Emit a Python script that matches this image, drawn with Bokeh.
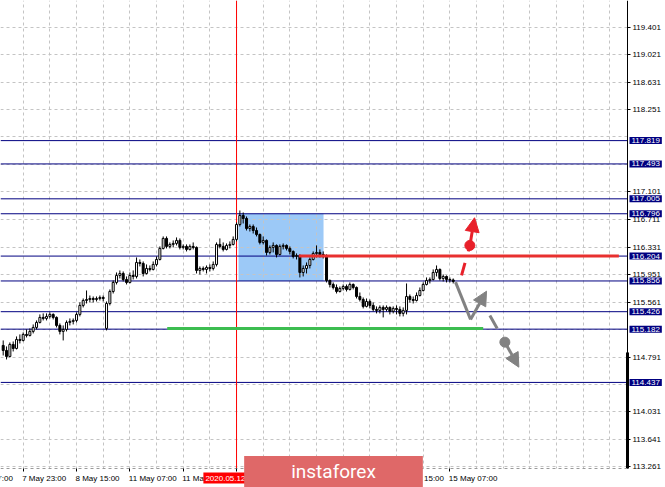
import numpy as np
from bokeh.plotting import figure
from bokeh.models import Range1d, FixedTicker, Span, Label, Arrow, NormalHead, PrintfTickFormatter
from bokeh.embed import file_html
from bokeh.resources import INLINE

# ---------------- data (H1 candles, 7 May 17:00 .. 15 May 08:00) ----------------
opens = [114.954, 114.884, 114.800, 114.968, 114.912, 115.038, 115.024, 115.108, 115.094, 115.150,
         115.206, 115.276, 115.346, 115.332, 115.360, 115.388, 115.346, 115.234, 115.150, 115.178,
         115.276, 115.290, 115.304, 115.388, 115.514, 115.583, 115.597, 115.611, 115.597, 115.611,
         115.625, 115.192, 115.541, 115.709, 115.835, 115.933, 115.961, 115.877, 115.835, 115.933,
         115.919, 116.115, 116.101, 115.961, 116.031, 116.017, 116.087, 116.157, 116.311, 116.451,
         116.339, 116.367, 116.381, 116.423, 116.325, 116.339, 116.297, 116.339, 116.325, 116.003,
         116.031, 116.017, 116.045, 116.031, 116.087, 116.367, 116.339, 116.297, 116.353, 116.367,
         116.437, 116.646, 116.772, 116.730, 116.590, 116.618, 116.562, 116.506, 116.395, 116.423,
         116.255, 116.325, 116.353, 116.227, 116.339, 116.353, 116.311, 116.269, 116.199, 116.213,
         115.975, 116.031, 116.073, 116.157, 116.241, 116.255, 116.227, 116.199, 115.863, 115.807,
         115.765, 115.709, 115.751, 115.779, 115.737, 115.807, 115.765, 115.639, 115.597, 115.500,
         115.569, 115.514, 115.458, 115.444, 115.486, 115.458, 115.486, 115.430, 115.472, 115.458,
         115.402, 115.444, 115.639, 115.597, 115.583, 115.653, 115.723, 115.807, 115.863, 115.877,
         115.975, 116.017, 115.891, 115.919, 115.877, 115.870]
closes = [114.884, 114.800, 114.968, 114.912, 115.038, 115.024, 115.108, 115.094, 115.150, 115.206,
          115.276, 115.346, 115.332, 115.360, 115.388, 115.346, 115.234, 115.150, 115.178, 115.276,
          115.290, 115.304, 115.388, 115.514, 115.583, 115.597, 115.611, 115.597, 115.611, 115.625,
          115.611, 115.541, 115.709, 115.835, 115.933, 115.961, 115.877, 115.835, 115.933, 115.919,
          116.115, 116.101, 115.961, 116.031, 116.017, 116.087, 116.157, 116.311, 116.451, 116.339,
          116.367, 116.381, 116.423, 116.325, 116.339, 116.297, 116.339, 116.325, 116.003, 116.031,
          116.017, 116.045, 116.031, 116.087, 116.367, 116.339, 116.297, 116.353, 116.367, 116.437,
          116.646, 116.772, 116.730, 116.590, 116.618, 116.562, 116.506, 116.395, 116.423, 116.255,
          116.325, 116.353, 116.227, 116.339, 116.353, 116.311, 116.269, 116.199, 116.213, 115.975,
          116.031, 116.073, 116.157, 116.241, 116.255, 116.227, 116.199, 115.863, 115.807, 115.765,
          115.709, 115.751, 115.779, 115.737, 115.807, 115.765, 115.639, 115.597, 115.500, 115.569,
          115.514, 115.458, 115.444, 115.486, 115.458, 115.486, 115.430, 115.472, 115.458, 115.402,
          115.444, 115.639, 115.597, 115.583, 115.653, 115.723, 115.807, 115.863, 115.877, 115.975,
          116.017, 115.891, 115.919, 115.877, 115.870, 115.849]
highs = [115.024, 114.940, 114.996, 115.010, 115.080, 115.108, 115.136, 115.178, 115.192, 115.248,
         115.304, 115.388, 115.402, 115.402, 115.416, 115.402, 115.360, 115.262, 115.234, 115.304,
         115.332, 115.332, 115.416, 115.556, 115.611, 115.723, 115.653, 115.639, 115.639, 115.653,
         115.653, 115.569, 115.737, 115.863, 115.975, 116.003, 115.989, 115.919, 115.975, 116.003,
         116.185, 116.157, 116.129, 116.087, 116.073, 116.129, 116.199, 116.339, 116.479, 116.479,
         116.395, 116.423, 116.465, 116.451, 116.367, 116.367, 116.367, 116.395, 116.339, 116.059,
         116.059, 116.073, 116.087, 116.129, 116.395, 116.451, 116.395, 116.381, 116.409, 116.479,
         116.674, 116.842, 116.814, 116.758, 116.646, 116.646, 116.604, 116.520, 116.479, 116.437,
         116.353, 116.395, 116.367, 116.367, 116.381, 116.367, 116.339, 116.283, 116.241, 116.227,
         116.073, 116.115, 116.185, 116.269, 116.353, 116.297, 116.269, 116.227, 115.877, 115.835,
         115.807, 115.779, 115.807, 115.807, 115.835, 115.821, 115.779, 115.695, 115.625, 115.611,
         115.597, 115.555, 115.500, 115.514, 115.514, 115.514, 115.500, 115.500, 115.514, 115.500,
         115.486, 115.821, 115.667, 115.639, 115.695, 115.765, 115.835, 115.905, 115.905, 116.017,
         116.073, 116.031, 115.947, 115.933, 115.905, 115.891]
lows = [114.814, 114.758, 114.786, 114.870, 114.898, 114.982, 115.010, 115.066, 115.080, 115.122,
        115.178, 115.262, 115.304, 115.304, 115.332, 115.318, 115.206, 115.108, 115.024, 115.150,
        115.234, 115.248, 115.276, 115.360, 115.486, 115.541, 115.555, 115.555, 115.569, 115.583,
        115.569, 115.164, 115.514, 115.681, 115.807, 115.891, 115.849, 115.807, 115.821, 115.877,
        115.891, 116.059, 115.919, 115.947, 115.989, 116.003, 116.059, 116.143, 116.297, 116.311,
        116.311, 116.325, 116.353, 116.297, 116.297, 116.269, 116.283, 116.297, 115.961, 115.947,
        115.989, 115.961, 115.989, 116.003, 116.059, 116.311, 116.269, 116.283, 116.311, 116.353,
        116.409, 116.618, 116.660, 116.562, 116.548, 116.520, 116.479, 116.367, 116.367, 116.213,
        116.227, 116.255, 116.185, 116.213, 116.297, 116.283, 116.227, 116.171, 116.157, 115.905,
        115.919, 115.961, 116.031, 116.143, 116.185, 116.185, 116.171, 115.835, 115.765, 115.737,
        115.681, 115.695, 115.723, 115.709, 115.723, 115.737, 115.611, 115.569, 115.472, 115.486,
        115.472, 115.430, 115.402, 115.402, 115.346, 115.430, 115.388, 115.402, 115.388, 115.360,
        115.360, 115.388, 115.555, 115.541, 115.569, 115.639, 115.709, 115.793, 115.821, 115.863,
        115.919, 115.863, 115.849, 115.835, 115.835, 115.821]

# time-axis labels (bar index -> label)
tick_bars = [-10, 6, 22, 38, 54, 70, 86, 102, 118, 134]
tick_labels = ["7 May 07:00", "7 May 23:00", "8 May 15:00", "11 May 07:00", "11 May 23:00",
               "12 May 15:00", "13 May 07:00", "13 May 23:00", "14 May 15:00", "15 May 07:00"]
marker_bar = 70
marker_label = "2020.05.12 15:00"

# price scale
price_ticks = [113.261, 113.641, 114.031, 114.791, 115.561, 115.951, 116.331, 116.711,
               117.101, 118.251, 118.631, 119.021, 119.401]
hidden_ticks = [114.411, 115.171, 117.481, 117.871]
levels = [117.819, 117.493, 117.005, 116.796, 116.204, 115.856, 115.426, 115.182, 114.437]

# drawn objects
rect_bars = (70.6, 96.1)
rect_prices = (115.856, 116.796)
resistance = 116.204
resistance_bars = (88.7, 184.7)
support = 115.19
support_bars = (49.2, 144.0)
up_x = [137.5, 140.0, 141.4]
up_y = [115.933, 116.353, 116.740]
gray_x = [135.7, 140.2, 145.0]
gray_y = [115.839, 115.318, 115.713]
down_x = [146.0, 150.5, 154.7]
down_y = [115.374, 115.000, 114.650]

# ---------------- figure ----------------
FONT = "Liberation Sans"
X0, X1 = -0.81, 198.69          # whole canvas width in bar units
Y0, Y1 = 112.967, 119.779       # whole canvas height in price units
AXIS_X = 187.29                 # price scale position (bar units)
AXIS_Y = 113.233                # time scale position (price units)
W, H = 665, 487

p = figure(width=W, height=H, x_range=Range1d(X0, X1), y_range=Range1d(Y0, Y1),
           y_axis_location="right", toolbar_location=None, output_backend="svg",
           min_border_left=0, min_border_top=0, min_border_right=0, min_border_bottom=0,
           background_fill_color="white", border_fill_color="white")
p.outline_line_color = None

# grid
p.xgrid.ticker = FixedTicker(ticks=list(range(-2, 188, 8)))
p.ygrid.ticker = FixedTicker(ticks=price_ticks + hidden_ticks)
for g in (p.xgrid[0], p.ygrid[0]):
    g.grid_line_color = "#c4c4c4"
    g.grid_line_dash = "3 3"
    g.grid_line_width = 1

# price axis (right)
ya = p.yaxis[0]
ya.fixed_location = AXIS_X
ya.bounds = (AXIS_Y, Y1)
ya.ticker = FixedTicker(ticks=price_ticks)
ya.formatter = PrintfTickFormatter(format="%.3f")
ya.major_label_text_font_size = "8px"
ya.major_label_text_font = FONT
ya.major_label_text_color = "black"
ya.major_tick_in = 0
ya.major_tick_out = 3
ya.minor_tick_in = 0
ya.minor_tick_out = 0
ya.major_label_standoff = 2
ya.axis_line_color = "black"

# time axis (bottom)
xa = p.xaxis[0]
xa.fixed_location = AXIS_Y
xa.bounds = (X0, AXIS_X)
xa.ticker = FixedTicker(ticks=tick_bars)
xa.major_label_text_color = None
xa.major_label_text_font_size = "8px"
xa.major_tick_in = 0
xa.major_tick_out = 3
xa.major_tick_line_color = "black"
xa.minor_tick_in = 0
xa.minor_tick_out = 0
xa.axis_line_color = "#9a9a9a"
xa.axis_line_dash = "3 3"

# blue zone
p.quad(left=[rect_bars[0]], right=[rect_bars[1]], bottom=[rect_prices[0]], top=[rect_prices[1]],
       fill_color="#9cc9f7", line_color=None, level="image")

# level lines
for v in levels:
    p.add_layout(Span(location=v, dimension="width", line_color="#000080", line_width=1, level="underlay"))
p.add_layout(Span(location=marker_bar, dimension="height", line_color="#ff0000", line_width=1, level="underlay"))

# candles
bars = np.arange(len(closes))
o = np.array(opens); c = np.array(closes); h = np.array(highs); l = np.array(lows)
up = c >= o
p.segment(x0=bars, y0=l, x1=bars, y1=h, line_color="black", line_width=1)
p.vbar(x=bars[up], bottom=o[up], top=c[up], width=0.6, fill_color="white", line_color="black", line_width=1)
p.vbar(x=bars[~up], bottom=c[~up], top=o[~up], width=0.6, fill_color="black", line_color="black", line_width=1)

# blank scale areas (right of price scale, below time scale)
p.quad(left=[AXIS_X], right=[X1 + 5], bottom=[Y0 - 1], top=[Y1 + 1], fill_color="white", line_color=None)
p.quad(left=[X0 - 5], right=[X1 + 5], bottom=[Y0 - 1], top=[AXIS_Y], fill_color="white", line_color=None)

# thick marker on the price scale
p.segment(x0=[AXIS_X], y0=[114.856], x1=[AXIS_X], y1=[AXIS_Y], line_color="black", line_width=3)

# resistance / support
p.segment(x0=[resistance_bars[0]], y0=[resistance], x1=[resistance_bars[1]], y1=[resistance],
          line_color="#e8302f", line_width=3)
p.segment(x0=[support_bars[0]], y0=[support], x1=[support_bars[1]], y1=[support],
          line_color="#3cbd50", line_width=3)

# red (bullish) scenario
RED = "#e8202a"
p.line(up_x[:2], up_y[:2], line_color=RED, line_width=3, line_dash="13 12")
p.scatter([up_x[1]], [up_y[1]], size=10, color=RED)
p.add_layout(Arrow(end=NormalHead(size=14, fill_color=RED, line_color=RED),
                   x_start=up_x[1], y_start=up_y[1], x_end=up_x[2], y_end=up_y[2],
                   line_color=RED, line_width=3))

# gray (bearish) scenario
GRAY = "#828282"
p.line(gray_x[:2], gray_y[:2], line_color=GRAY, line_width=3)
p.add_layout(Arrow(end=NormalHead(size=14, fill_color=GRAY, line_color=GRAY),
                   x_start=gray_x[1], y_start=gray_y[1], x_end=gray_x[2], y_end=gray_y[2],
                   line_color=GRAY, line_width=3))
p.line(down_x[:2], down_y[:2], line_color=GRAY, line_width=3, line_dash="15 12")
p.scatter([down_x[1]], [down_y[1]], size=10, color=GRAY)
p.add_layout(Arrow(end=NormalHead(size=14, fill_color=GRAY, line_color=GRAY),
                   x_start=down_x[1], y_start=down_y[1], x_end=down_x[2], y_end=down_y[2],
                   line_color=GRAY, line_width=3))

# time labels (left-aligned at their ticks, MT4 style)
for b, t in zip(tick_bars, tick_labels):
    p.add_layout(Label(x=b, y=9.5, x_units="data", y_units="screen", text=t, x_offset=-1,
                       text_align="left", text_baseline="middle", text_font_size="8px",
                       text_font=FONT, text_color="black"))

# price tags on the scale
for v in levels:
    p.add_layout(Label(x=629, y=v, x_units="screen", y_units="data", text=f"{v:.3f}",
                       text_align="left", text_baseline="middle", text_font_size="8px",
                       text_font=FONT, text_color="white", background_fill_color="#000080",
                       padding=dict(left=2, right=2, top=1, bottom=1)))

# vertical line date tag
p.add_layout(Label(x=marker_bar, y=9.5, x_units="data", y_units="screen", text=marker_label,
                   text_align="center", text_baseline="middle", text_font_size="8px",
                   text_font=FONT, text_color="white", background_fill_color="#ff0000",
                   padding=dict(left=2, right=2, top=1, bottom=1)))

# logo
p.add_layout(Label(x=333, y=16, x_units="screen", y_units="screen", text="instaforex",
                   text_align="center", text_baseline="middle", text_font_size="19px",
                   text_font="Roboto", text_color="white", background_fill_color="#df6868",
                   padding=dict(left=47, right=47, top=4, bottom=4)))

open("out.html", "w").write(file_html(p, INLINE))
